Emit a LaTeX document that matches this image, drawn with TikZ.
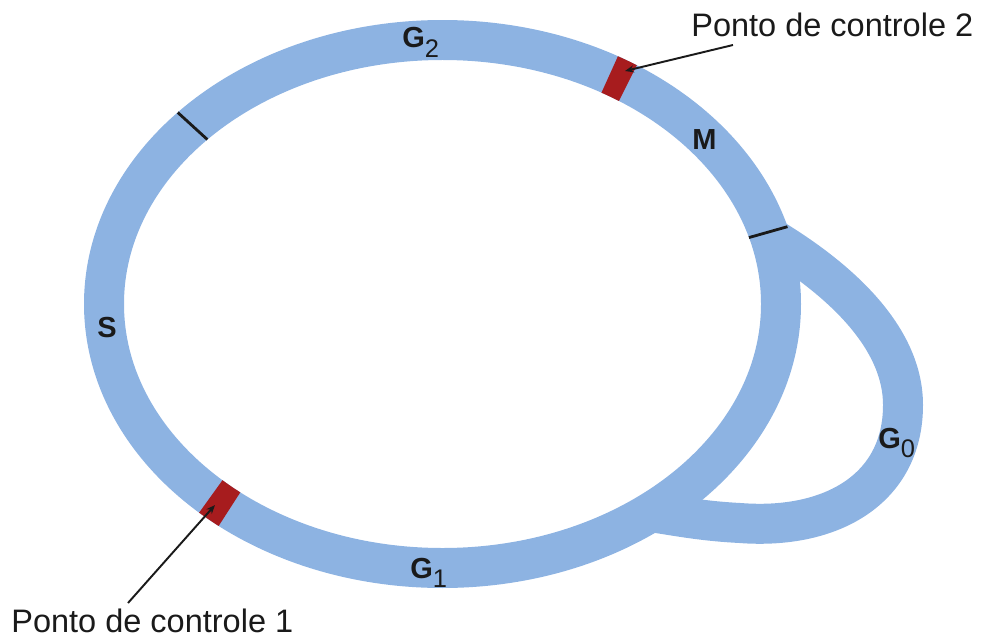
\documentclass[tikz,border=0pt]{standalone}
\usepackage{fontspec}
\setmainfont{Liberation Sans}
\usetikzlibrary{calc,arrows.meta}
\definecolor{bandblue}{HTML}{8DB3E2}
\definecolor{markred}{HTML}{A71C1E}
\definecolor{ink}{HTML}{1A1A1A}
\newcommand\lsub[1]{\raisebox{-0.33em}{\fontsize{14.5}{16}\selectfont\mdseries #1}}
\begin{document}
\begin{tikzpicture}[x=0.02cm,y=-0.02cm,
  band/.style={draw=bandblue, line width=0.8cm},
  marker/.style={draw=markred, line width=0.8cm},
  tick/.style={draw=ink, line width=1.6pt},
  lbl/.style={text=ink, font=\fontsize{16.5}{18}\selectfont\bfseries, inner sep=0pt, anchor=base west},
  ptext/.style={text=ink, font=\fontsize{18.5}{22}\selectfont, inner sep=0pt, anchor=base west},
  pointer/.style={draw=ink, line width=1.1pt, -{Stealth[length=5pt,width=4pt]}}]
\useasboundingbox (0,0) rectangle (984,639);
\coordinate (C) at (442.5,304);
% loop G0
\draw[band] (768,236) .. controls (845,282) and (903,340) .. (903,405)
  .. controls (903,490) and (830,530) .. (740,523)
  .. controls (700,521) and (672,515) .. (650,512);
% main ring
\draw[band] (C) ellipse [x radius=338.5, y radius=264];
% control points
\draw[marker] ($(C)+(-60.4:338.5 and 264)$) arc[start angle=-60.4, end angle=-56.8, x radius=338.5, y radius=264];
\draw[marker] ($(C)+(129:338.5 and 264)$) arc[start angle=129, end angle=133.2, x radius=338.5, y radius=264];
% ticks
\draw[tick] ($(C)+(222.4:318.5 and 244)$) -- ($(C)+(222.4:358.5 and 284)$);
\draw[tick] ($(C)+(-15.8:318.5 and 244)$) -- ($(C)+(-15.8:358.5 and 284)$);
% labels
\node[lbl] (g2) at (402,48) {G\lsub{2}};
\node[lbl] (m) at (692,149) {M};
\node[lbl] (s) at (97,337) {S};
\node[lbl] (g1) at (410,578) {G\lsub{1}};
\node[lbl] (g0) at (878,448) {G\lsub{0}};
% pointer texts
\node[ptext] (p2) at (691,36) {Ponto de controle 2};
\node[ptext] (p1) at (11,632) {Ponto de controle 1};
\coordinate (l2) at (733,45);
\coordinate (m2) at (625,71);
\coordinate (l1) at (128,603);
\coordinate (m1) at (215,505);
\draw[pointer] (l2) -- (m2);
\draw[pointer] (l1) -- (m1);
\end{tikzpicture}
\end{document}
